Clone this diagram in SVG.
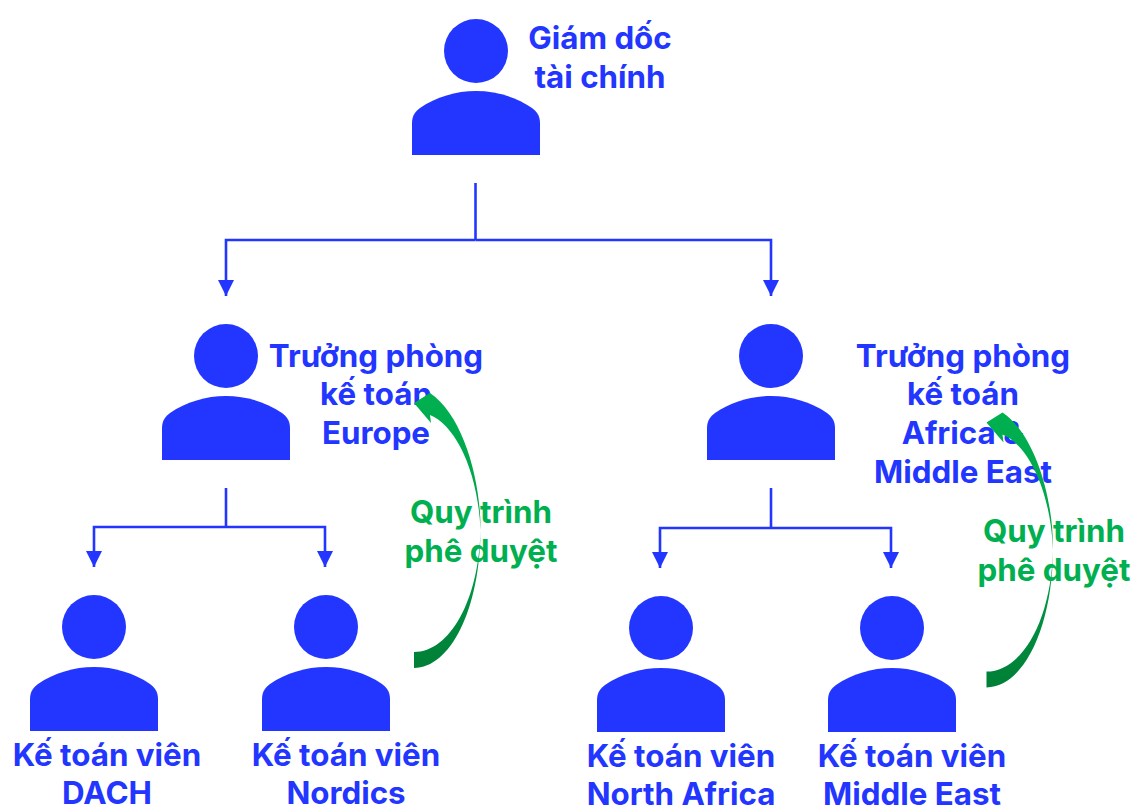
<svg xmlns="http://www.w3.org/2000/svg" xmlns:xlink="http://www.w3.org/1999/xlink" width="1135" height="811" viewBox="0 0 1135 811">
<style>
.t{font-family:Inter,"Noto Sans",sans-serif;font-weight:700;font-size:31.300px;text-anchor:middle;fill:#2236ff}
.g{fill:#00b050}
.c{fill:none;stroke:#2236ff;stroke-width:2.600}
.p{fill:#2236ff}
</style>
<defs>
<marker id="ah" markerUnits="userSpaceOnUse" markerWidth="16" markerHeight="16" refX="8" refY="16" orient="0" viewBox="0 0 16 16"><path d="M0 0H16L8 16Z" fill="#2236ff"/></marker>
<linearGradient id="gr" gradientUnits="userSpaceOnUse" x1="0" y1="668" x2="0" y2="395"><stop offset="0" stop-color="#007f37"/><stop offset=".5" stop-color="#00a048"/><stop offset="1" stop-color="#00b050"/></linearGradient>
<g id="person"><circle cx="0" cy="-64" r="32"/><path d="M-64 40V8C-64 0-60-4-56-7C-40-18-20-24 0-24C20-24 40-18 56-7C60-4 64 0 64 8V40Z"/></g>
<path id="arc" d="M414 668C450 668 480 610 480.500 530C481 480 463 415 430 393L414 403L431 423L430 415C455 425 478 470 480.500 530C479 600 450 652 414 652Z" fill="url(#gr)"/>
</defs>
<g id="connectors">
<path class="c" d="M475.500 183V240"/>
<path class="c" d="M475.500 240H226V296" marker-end="url(#ah)"/>
<path class="c" d="M475.500 240H771V296" marker-end="url(#ah)"/>
<path class="c" d="M226 488V527"/>
<path class="c" d="M226 527H94V567" marker-end="url(#ah)"/>
<path class="c" d="M226 527H325V567" marker-end="url(#ah)"/>
<path class="c" d="M771 488V528"/>
<path class="c" d="M771 528H660V568" marker-end="url(#ah)"/>
<path class="c" d="M771 528H891V568" marker-end="url(#ah)"/>
</g>
<g id="n-cfo"><use class="p" href="#person" x="476" y="115"/><text class="t" x="600" y="49">Giám dốc</text><text class="t" x="600" y="88">tài chính</text></g>
<g id="n-eu"><use class="p" href="#person" x="226" y="420"/><text class="t" x="376" y="367">Trưởng phòng</text><text class="t" x="376" y="405">kế toán</text><text class="t" x="376" y="444">Europe</text></g>
<g id="n-ame"><use class="p" href="#person" x="771" y="420"/><text class="t" x="963" y="367">Trưởng phòng</text><text class="t" x="963" y="405">kế toán</text><text class="t" x="963" y="444">Africa &amp;</text><text class="t" x="963" y="483">Middle East</text></g>
<g id="n-dach"><use class="p" href="#person" x="94" y="691"/><text class="t" x="107" y="766">Kế toán viên</text><text class="t" x="107" y="804">DACH</text></g>
<g id="n-nordics"><use class="p" href="#person" x="326" y="691"/><text class="t" x="346" y="766">Kế toán viên</text><text class="t" x="346" y="804">Nordics</text></g>
<g id="n-na"><use class="p" href="#person" x="661" y="692"/><text class="t" x="681" y="767">Kế toán viên</text><text class="t" x="681" y="805">North Africa</text></g>
<g id="n-me"><use class="p" href="#person" x="892" y="692"/><text class="t" x="912" y="767">Kế toán viên</text><text class="t" x="912" y="805">Middle East</text></g>
<g id="approval-1"><use href="#arc"/><text class="t g" x="481" y="523">Quy trình</text><text class="t g" x="481" y="562">phê duyệt</text></g>
<g id="approval-2"><use href="#arc" x="572.500" y="19.500"/><text class="t g" x="1054" y="542">Quy trình</text><text class="t g" x="1054" y="581">phê duyệt</text></g>
</svg>
